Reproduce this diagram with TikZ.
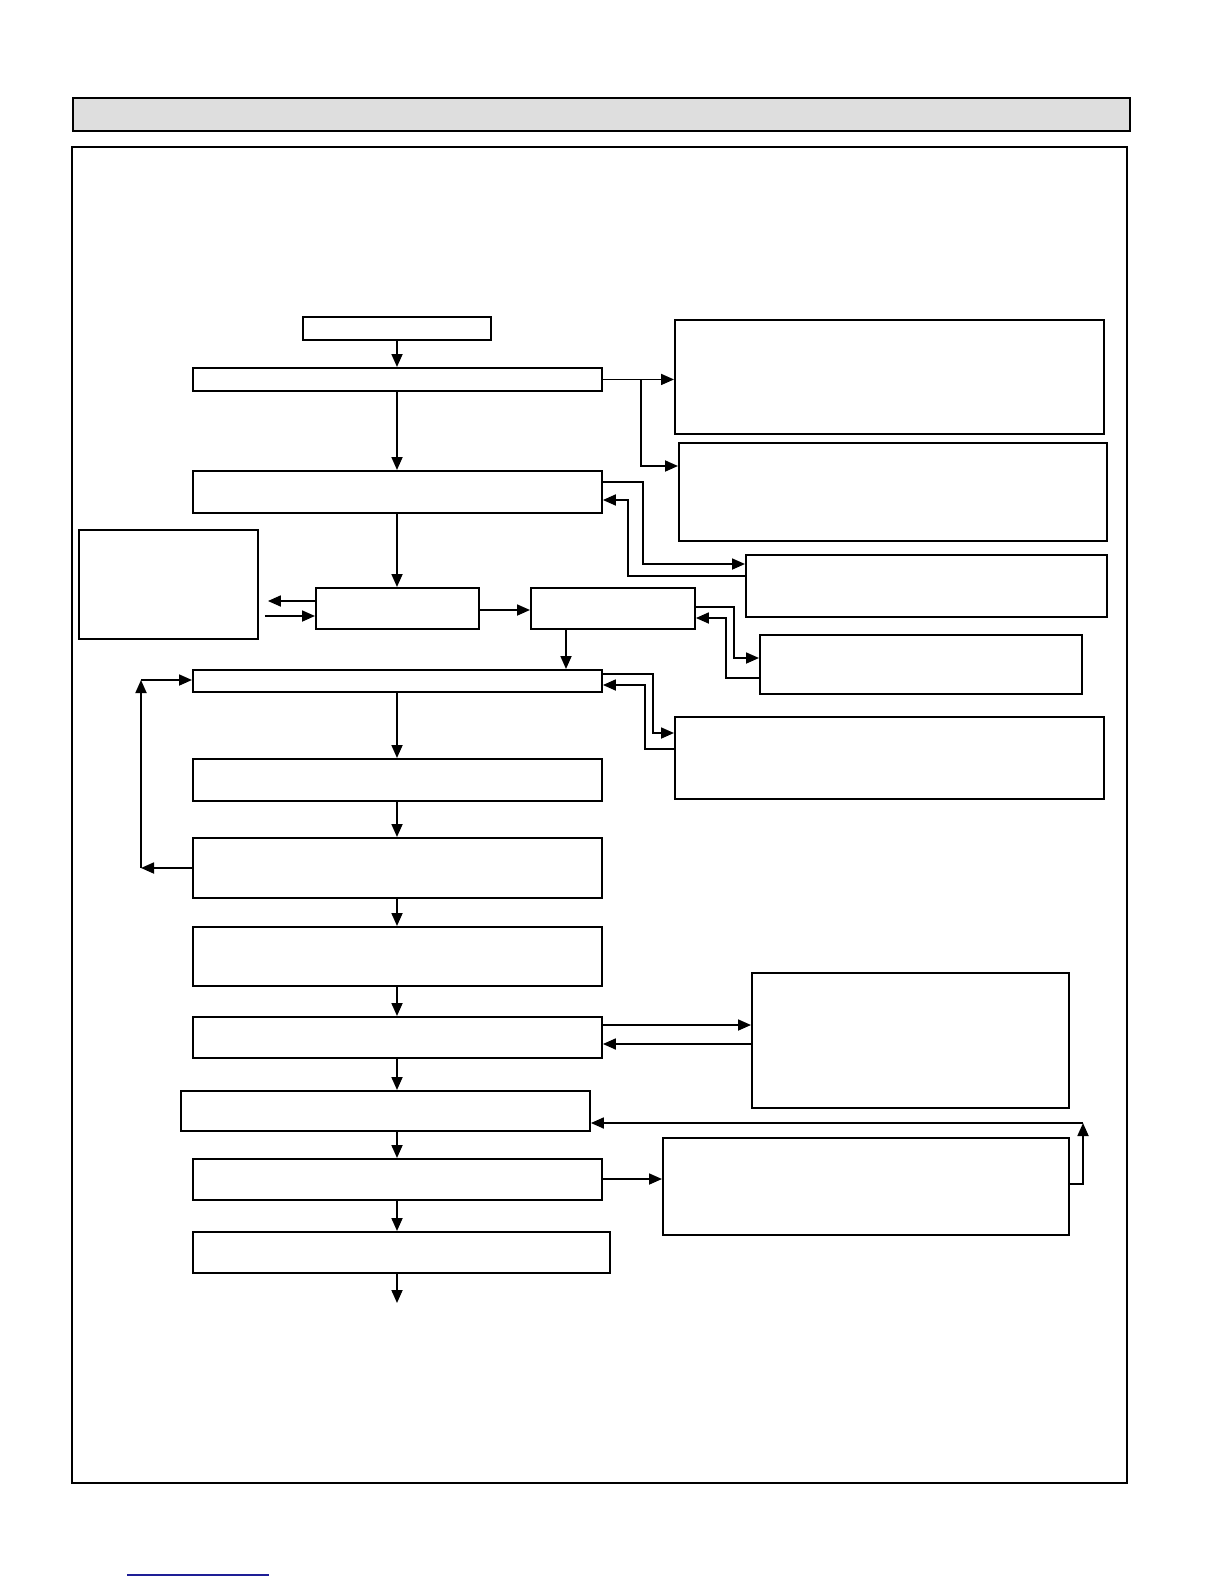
\documentclass[tikz,border=0pt]{standalone}
\usepackage{tikz}
\usetikzlibrary{arrows.meta}

\definecolor{linkblue}{RGB}{30,30,150}

\begin{document}
\begin{tikzpicture}[
    x=0.5pt, y=-0.5pt,
    box/.style={draw, line width=0.95pt, anchor=north west, inner sep=0pt},
    arrow/.style={-{Triangle[length=6.5pt,width=5.5pt]}, line width=0.9pt}
  ]
    \useasboundingbox (0,0) rectangle (1224,1584);
    % title bar and frame
    \node[box, line width=1.1pt, fill=black!13, minimum width=528.5pt, minimum height=16.5pt] (title) at (72,97) {};
    \draw[line width=1pt] (72,147) rectangle (1127,1483);
    \draw[line width=1.4pt] (72,147) -- (1127,147);
    \draw[line width=1.4pt] (72,1483) -- (1127,1483);

    % main column
    \node[box, minimum width=94pt, minimum height=11.5pt] (start) at (302,316) {};
    \node[box, minimum width=204.5pt, minimum height=11.5pt] (b) at (192,367) {};
    \node[box, minimum width=204.5pt, minimum height=21pt] (c) at (192,470) {};
    \node[box, minimum width=81.5pt, minimum height=20.5pt] (d) at (315,587) {};
    \node[box, minimum width=82pt, minimum height=20.5pt] (e) at (530,587) {};
    \node[box, minimum width=204.5pt, minimum height=11pt] (f) at (192,669) {};
    \node[box, minimum width=204.5pt, minimum height=21pt] (g) at (192,758) {};
    \node[box, minimum width=204.5pt, minimum height=30pt] (h) at (192,837) {};
    \node[box, minimum width=204.5pt, minimum height=29.5pt] (i) at (192,926) {};
    \node[box, minimum width=204.5pt, minimum height=20.5pt] (j) at (192,1016) {};
    \node[box, minimum width=204.5pt, minimum height=20pt] (k) at (180,1090) {};
    \node[box, minimum width=204.5pt, minimum height=20.5pt] (l) at (192,1158) {};
    \node[box, minimum width=208.5pt, minimum height=20.5pt] (m) at (192,1231) {};
    \coordinate (out) at (397,1303);

    % side boxes
    \node[box, minimum width=89.5pt, minimum height=54.5pt] (left) at (78,529) {};
    \node[box, minimum width=214.5pt, minimum height=57pt] (r1) at (674,319) {};
    \node[box, minimum width=214pt, minimum height=49pt] (r2) at (678,442) {};
    \node[box, minimum width=180.5pt, minimum height=31pt] (r3) at (745,554) {};
    \node[box, minimum width=161pt, minimum height=29.5pt] (r4) at (759,634) {};
    \node[box, minimum width=214.5pt, minimum height=41pt] (r5) at (674,716) {};
    \node[box, minimum width=158.5pt, minimum height=67.5pt] (r6) at (751,972) {};
    \node[box, minimum width=203pt, minimum height=48.5pt] (r7) at (662,1137) {};

    % down the column
    \draw[arrow] (out |- start.south) -- (out |- b.north);
    \draw[arrow] (out |- b.south) -- (out |- c.north);
    \draw[arrow] (out |- c.south) -- (out |- d.north);
    \draw[arrow] (d.east |- 0,610) -- (e.west |- 0,610);
    \draw[arrow] (566,0 |- e.south) -- (566,0 |- f.north);
    \draw[arrow] (out |- f.south) -- (out |- g.north);
    \draw[arrow] (out |- g.south) -- (out |- h.north);
    \draw[arrow] (out |- h.south) -- (out |- i.north);
    \draw[arrow] (out |- i.south) -- (out |- j.north);
    \draw[arrow] (out |- j.south) -- (out |- k.north);
    \draw[arrow] (out |- k.south) -- (out |- l.north);
    \draw[arrow] (out |- l.south) -- (out |- m.north);
    \draw[arrow] (out |- m.south) -- (out);

    % out to the right
    \draw[arrow] (b.east) -- (b.east -| r1.west);
    \draw[arrow] (b.east -| 641,0) |- (r2.west |- 0,466);
    \draw[arrow] (c.east |- 0,482) -- (643,482) |- (r3.west |- 0,564);
    \draw[arrow] (r3.west |- 0,576) -| (628,500) -- (c.east |- 0,500);
    \draw[arrow] (e.east |- 0,607) -- (734,607) |- (r4.west |- 0,658);
    \draw[arrow] (r4.west |- 0,678) -| (726,618) -- (e.east |- 0,618);
    \draw[arrow] (f.east |- 0,674) -- (653,674) |- (r5.west |- 0,733);
    \draw[arrow] (r5.west |- 0,749) -| (645,685) -- (f.east |- 0,685);
    \draw[arrow] (j.east |- 0,1025) -- (r6.west |- 0,1025);
    \draw[arrow] (r6.west |- 0,1044) -- (j.east |- 0,1044);
    \draw[arrow] (l.east |- 0,1179) -- (r7.west |- 0,1179);
    \coordinate (rt) at (1083,1123);
    \draw[arrow] (r7.east |- 0,1184) -- (rt |- 0,1184) -- (rt);
    \draw[arrow] (rt) -- (k.east |- rt);

    % left box and loop back
    \draw[arrow] (d.west |- 0,601) -- ([xshift=4.5pt]left.east |- 0,601);
    \draw[arrow] ([xshift=3pt]left.east |- 0,616) -- (d.west |- 0,616);
    \coordinate (lpb) at (141,868);
    \coordinate (lpt) at (141,680);
    \draw[arrow] (h.west |- lpb) -- (lpb);
    \draw[arrow] (lpb) -- (lpt);
    \draw[arrow] (lpt) -- (f.west |- lpt);

    \draw[linkblue, line width=0.8pt] (127,1575) -- (269,1575);
  \end{tikzpicture}
\end{document}
